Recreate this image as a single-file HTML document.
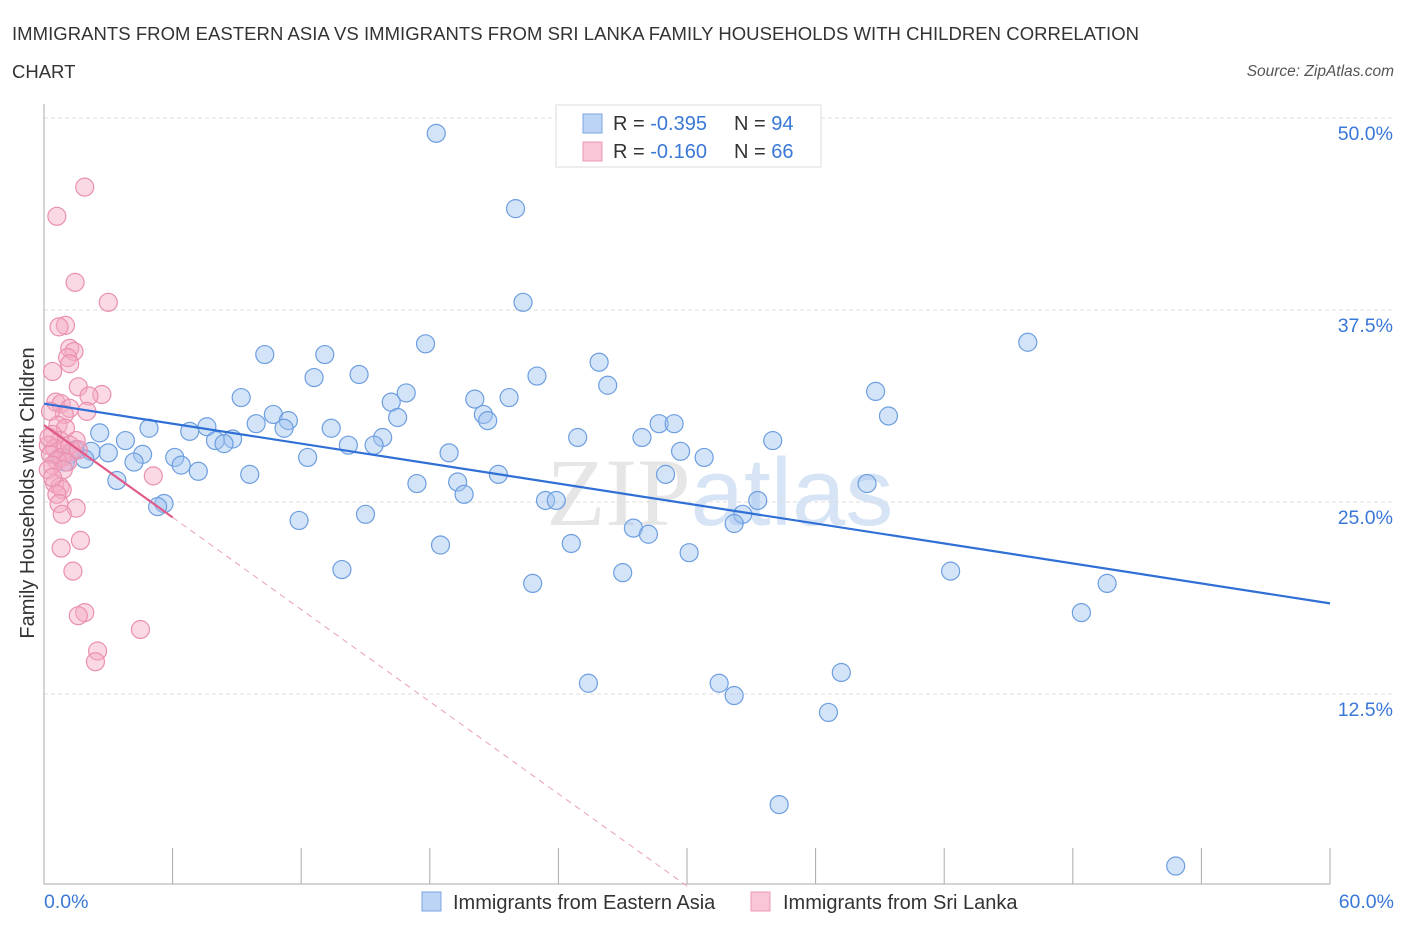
<!DOCTYPE html>
<html><head><meta charset="utf-8"><style>
body{margin:0;background:#fff;font-family:"Liberation Sans",sans-serif;}
svg{display:block}
</style></head><body>
<svg id="chart" width="1406" height="930">
<text x="12" y="40" font-size="18.5" fill="#333" textLength="1127">IMMIGRANTS FROM EASTERN ASIA VS IMMIGRANTS FROM SRI LANKA FAMILY HOUSEHOLDS WITH CHILDREN CORRELATION</text>
<text x="12" y="78" font-size="18.5" fill="#333">CHART</text>
<text x="1394" y="76" font-size="15.5" fill="#555" font-style="italic" text-anchor="end">Source: ZipAtlas.com</text>
<text x="720" y="525" font-size="96" fill="#e6e6e6" text-anchor="middle" font-family="Liberation Serif,serif">ZIP<tspan fill="#d6e4f5" font-family="Liberation Sans,sans-serif">atlas</tspan></text>
<g id="grid"></g>
<g id="axes"></g>
<g id="pts"></g>
<g id="lines"></g>
<text transform="translate(34,493) rotate(-90)" font-size="20" fill="#333" text-anchor="middle">Family Households with Children</text>
<g>
<rect x="556" y="105" width="265" height="62" fill="#fff" stroke="#ddd"/>
<rect x="583" y="114" width="19" height="19" fill="#bcd4f6" stroke="#7aa6e2"/>
<text x="613" y="130" font-size="20" fill="#333">R = <tspan fill="#3a78d8">-0.395</tspan><tspan x="734">N = </tspan><tspan fill="#3a78d8">94</tspan></text>
<rect x="583" y="142" width="19" height="19" fill="#f8c6d6" stroke="#eb98b4"/>
<text x="613" y="158" font-size="20" fill="#333">R = <tspan fill="#3a78d8"> -0.160</tspan><tspan x="734">N = </tspan><tspan fill="#3a78d8">66</tspan></text>
</g>
<g>
<rect x="422" y="892" width="19" height="19" fill="#bcd4f6" stroke="#7aa6e2"/>
<text x="453" y="909" font-size="20" fill="#333">Immigrants from Eastern Asia</text>
<rect x="751" y="892" width="19" height="19" fill="#f8c6d6" stroke="#eb98b4"/>
<text x="783" y="909" font-size="20" fill="#333">Immigrants from Sri Lanka</text>
</g>
</svg>
<script>
const blueX=[18.3,22.0,22.35,17.8,10.3,13.1,25.9,45.9,14.7,12.6,23.0,26.3,38.8,16.9,9.2,16.2,20.1,21.7,10.7,39.4,20.5,16.5,11.4,20.7,7.6,9.9,11.2,28.7,29.4,4.9,13.4,6.8,2.6,15.8,24.9,27.9,34.0,3.8,8.8,8.0,8.4,14.2,15.4,2.2,3.0,4.6,18.9,29.7,6.1,30.8,12.3,4.2,6.4,1.9,7.2,9.6,21.2,29.0,3.4,17.4,19.3,38.4,19.6,23.4,23.9,33.3,5.6,5.3,15.0,32.6,11.9,32.2,27.5,28.2,24.6,18.5,30.1,13.9,27.0,42.3,22.8,49.6,48.4,37.2,25.4,31.5,32.2,36.6,34.3,52.8,0.75,1.2,1.45,1.0];
const blueY=[49.0,44.1,38.0,35.3,34.6,34.6,34.1,35.4,33.3,33.1,33.2,32.6,32.2,32.1,31.8,31.5,31.7,31.8,30.7,30.6,30.7,30.5,30.3,30.3,29.9,30.1,29.8,30.1,30.1,29.8,29.8,29.6,29.5,29.2,29.2,29.2,29.0,29.0,29.1,29.0,28.8,28.7,28.7,28.3,28.2,28.1,28.2,28.3,27.9,27.9,27.9,27.6,27.4,27.8,27.0,26.8,26.8,26.8,26.4,26.2,26.3,26.2,25.5,25.1,25.1,25.1,24.9,24.7,24.2,24.2,23.8,23.6,23.3,22.9,22.3,22.2,21.7,20.6,20.4,20.5,19.7,19.7,17.8,13.9,13.2,13.2,12.4,11.3,5.3,1.3,27.9,28.1,28.4,27.6];
const pinkX=[1.9,0.6,1.45,3.0,1.0,0.7,1.2,1.4,1.1,1.2,0.4,1.6,2.7,2.1,0.55,0.8,1.2,2.0,0.95,0.3,0.65,1.0,0.4,1.5,0.75,0.2,0.5,0.98,1.3,0.3,0.85,0.6,1.1,0.4,0.2,5.1,0.5,0.75,0.85,0.6,0.7,1.5,0.85,1.7,0.8,1.35,1.9,1.6,4.5,2.5,2.4,0.23,1.2,1.6,0.9,0.4];
const pinkY=[45.5,43.6,39.3,38.0,36.5,36.4,35.0,34.8,34.4,34.0,33.5,32.5,32.0,31.9,31.5,31.4,31.1,30.9,30.7,30.9,30.0,29.8,29.4,29.0,29.0,28.7,28.5,28.4,28.3,28.1,27.9,27.7,27.6,27.4,27.1,26.7,26.2,26.0,25.8,25.5,24.9,24.6,24.2,22.5,22.0,20.5,17.8,17.6,16.7,15.3,14.6,29.2,28.7,28.4,27.1,26.6];
const yTicks=[12.5,25.0,37.5,50.0];
const xTickLabels=["0.0%","60.0%"];
const blueTrend=[31.4,18.4];
const pinkTrend=[30.0,0];
const pinkTrendEndX=30.0, pinkSolidEndX=6.0;

const X0=44,X1=1330,YB=886;
const sx=v=>X0+v*(X1-X0)/60;
const sy=v=>YB-v*15.36;
const NS="http://www.w3.org/2000/svg";
function mk(tag,attrs,parent){const e=document.createElementNS(NS,tag);for(const k in attrs)e.setAttribute(k,attrs[k]);document.getElementById(parent).appendChild(e);return e;}

yTicks.forEach(t=>{
  const g=mk('line',{x1:X0,x2:1394,y1:sy(t),y2:sy(t),stroke:'#ddd','stroke-dasharray':'4,3'},'grid');
  
  
  const l=mk('text',{x:1393,y:sy(t)+22,'font-size':19.5,fill:'#3a78d8','text-anchor':'end'},'axes');
  l.textContent=t.toFixed(1)+'%';
  
  
});
const ax=mk('line',{x1:X0,x2:X0,y1:104,y2:YB-2,stroke:'#aaa'},'axes');


const axx=mk('line',{x1:X0,x2:X1,y1:YB-2,y2:YB-2,stroke:'#aaa'},'axes');


for(let i=1;i<=10;i++){
  const t=mk('line',{x1:sx(i*6),x2:sx(i*6),y1:YB-2,y2:YB-38,stroke:'#aaa'},'axes');
  
  
}
[[0,'start',X0],[60,'end',1394]].forEach((d,i)=>{
  const l=mk('text',{x:d[2],y:908,'font-size':19.5,fill:'#3a78d8','text-anchor':d[1]},'axes');
  l.textContent=xTickLabels[i];
  
  
});
blueX.forEach((x,i)=>{
  const c=mk('circle',{cx:sx(x),cy:sy(blueY[i]),r:9,fill:'rgba(160,196,240,0.45)',stroke:'#6d9ee0','stroke-width':1.2},'pts');
  
  
});
pinkX.forEach((x,i)=>{
  const c=mk('circle',{cx:sx(x),cy:sy(pinkY[i]),r:9,fill:'rgba(245,170,196,0.45)',stroke:'#ea8fb0','stroke-width':1.2},'pts');
  
  
});
const bl=mk('line',{x1:sx(0),y1:sy(blueTrend[0]),x2:sx(60),y2:sy(blueTrend[1]),stroke:'#2f6fd6','stroke-width':2.2},'lines');


const py=x=>pinkTrend[0]+(pinkTrend[1]-pinkTrend[0])*x/pinkTrendEndX;
const pl=mk('line',{x1:sx(0),y1:sy(py(0)),x2:sx(pinkSolidEndX),y2:sy(py(pinkSolidEndX)),stroke:'#e05a8a','stroke-width':2.2},'lines');


const pd=mk('line',{x1:sx(pinkSolidEndX),y1:sy(py(pinkSolidEndX)),x2:sx(pinkTrendEndX),y2:sy(py(pinkTrendEndX)),stroke:'#eaa0bb','stroke-width':1,'stroke-dasharray':'6,5'},'lines');


</script>
</body></html>
